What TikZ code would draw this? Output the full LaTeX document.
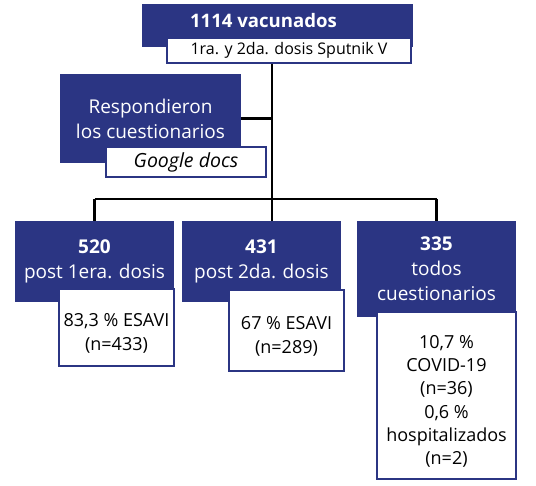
\documentclass[tikz,border=0pt]{standalone}
\usepackage{fontspec}
\setmainfont{Open Sans}
\usepackage{tikz}
\usetikzlibrary{calc,positioning}
\definecolor{vacblue}{RGB}{43,53,131}

\begin{document}
\begin{tikzpicture}[x=1pt,y=-1pt,
		bluebox/.style={fill=vacblue,text=white,inner sep=0pt,align=center,font=\fontsize{19}{25}\selectfont},
		whitebox/.style={fill=white,draw=vacblue,line width=2pt,inner sep=0pt,align=center,font=\fontsize{18}{23.3}\selectfont},
		boxtxt/.style={inner sep=0pt,align=center,font=\fontsize{18}{23.3}\selectfont,yshift=-6pt},
		branch/.style={line width=2.8pt,black}]
				\useasboundingbox (0,0) rectangle (536,486);
				% cabecera
				\node[bluebox,minimum width=271,minimum height=43] (top) at (277.5,25.5) {};
				\node[text=white,inner sep=0pt,font=\fontsize{18.6}{25}\selectfont\bfseries] (toptxt) at (263.5,21) {1114 vacunados};
				\node[whitebox,minimum width=244,minimum height=25,font=\fontsize{16}{20}\selectfont] (topsub) at (289,50.5) {1ra. y 2da. dosis Sputnik V};
				% cuestionarios
				\node[bluebox,minimum width=181,minimum height=89] (resp) at (150.5,118.5) {Respondieron\\los cuestionarios};
				\node[whitebox,minimum width=160,minimum height=30,font=\fontsize{19.5}{23}\selectfont\itshape] (gdocs) at (186,162) {Google docs};
				% ramas
				\node[bluebox,minimum width=159,minimum height=81] (b1) at (94.5,261.5) {\textbf{520}\\post 1era. dosis};
				\node[bluebox,minimum width=159,minimum height=81] (b2) at (261.5,261.5) {\textbf{431}\\post 2da. dosis};
				\node[bluebox,minimum width=159,minimum height=96] (b3) at (436.5,269) {\textbf{335}\\todos\\cuestionarios};
				\node[whitebox,minimum width=115,minimum height=77,
					label={[boxtxt]center:83,3 \% ESAVI\\(n=433)}] (s1) at (116.5,327.5) {};
				\node[whitebox,minimum width=115,minimum height=81,
					label={[boxtxt]center:67 \% ESAVI\\(n=289)}] (s2) at (286.5,330.5) {};
				\node[whitebox,minimum width=139,minimum height=167,
					label={[boxtxt]center:10,7 \%\\COVID-19\\(n=36)\\0,6 \%\\hospitalizados\\(n=2)}] (s3) at (446.5,395.5) {};
				% conectores
				\coordinate (bus) at (272,199);
				\draw[branch] (bus |- topsub.south) -- (bus);
				\draw[branch] (resp.east) -- (resp.east -| bus);
				\draw[branch] (b1.north |- bus) -- (b3.north |- bus);
				\draw[branch] (b1.north |- bus) -- (b1.north);
				\draw[branch] (bus) -- (bus |- b2.north);
				\draw[branch] (b3.north |- bus) -- (b3.north);
\end{tikzpicture}
\end{document}
